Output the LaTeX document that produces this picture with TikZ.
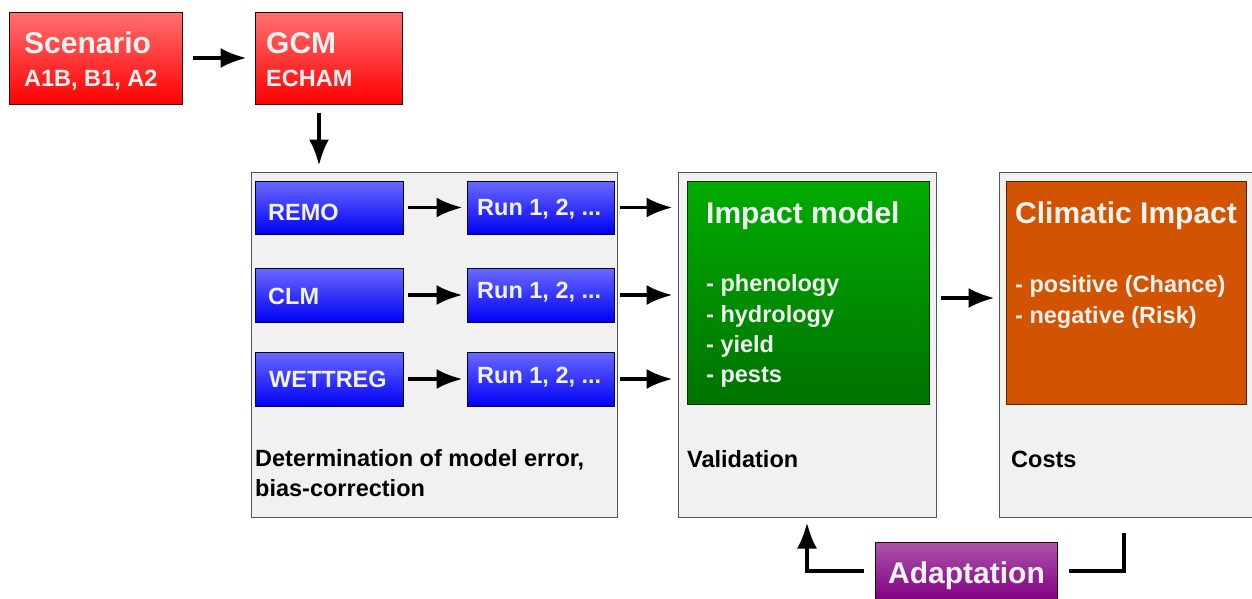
\documentclass[tikz,border=0pt]{standalone}
\usepackage{fontspec}
\setmainfont{Liberation Sans}
\usetikzlibrary{arrows.meta}
\definecolor{txtc}{HTML}{F2F2F2}
\definecolor{grayfill}{HTML}{F1F1F1}
\definecolor{grayline}{HTML}{555555}
\definecolor{redtop}{HTML}{FF7070}
\definecolor{redbot}{HTML}{FF0000}
\definecolor{bluetop}{HTML}{6A6AFF}
\definecolor{bluebot}{HTML}{0000F5}
\definecolor{greentop}{HTML}{00AC00}
\definecolor{greenbot}{HTML}{007200}
\definecolor{orangefill}{HTML}{D35400}
\definecolor{purptop}{HTML}{AA55AA}
\definecolor{purpbot}{HTML}{820082}
\begin{document}
\begin{tikzpicture}[x=1pt,y=-1pt,
  box/.style={inner sep=0pt, line width=1pt},
  redbox/.style={box, draw=black!80!red, top color=redtop, bottom color=redbot},
  bluebox/.style={box, draw=black!85!blue, top color=bluetop, bottom color=bluebot},
  graybox/.style={box, draw=grayline, fill=grayfill},
  greenbox/.style={box, draw=black!80!green, top color=greentop, bottom color=greenbot},
  orangebox/.style={box, draw=black!70!orange, fill=orangefill},
  purpbox/.style={box, draw=black!70!purple, top color=purptop, bottom color=purpbot},
  big/.style={anchor=base west, inner sep=0pt, text=txtc, font=\bfseries\fontsize{30}{32}\selectfont},
  small/.style={anchor=base west, inner sep=0pt, text=txtc, font=\bfseries\fontsize{23.5}{25}\selectfont},
  dark/.style={anchor=base west, inner sep=0pt, text=black, font=\bfseries\fontsize{23.5}{25}\selectfont},
  arr/.style={line width=3.6pt, -{Latex[length=26pt,width=20pt]}},
  plain/.style={line width=3.6pt, line cap=butt}
]
\clip (0,0) rectangle (1252,598);
\fill[white] (0,0) rectangle (1252,598);

% top boxes
\node[redbox, minimum width=173pt, minimum height=92pt] (scen) at (95.5,58) {};
\node[big] (scent) at (24,53) {Scenario};
\node[small] (scens) at (24,86) {A1B, B1, A2};
\node[redbox, minimum width=147pt, minimum height=92pt] (gcm) at (328.5,58) {};
\node[big] (gcmt) at (266,53) {GCM};
\node[small] (gcms) at (266,86) {ECHAM};

% gray containers
\node[graybox, minimum width=366pt, minimum height=345pt] (g1) at (434,344.5) {};
\node[graybox, minimum width=258pt, minimum height=345pt] (g2) at (807,344.5) {};
\node[graybox, minimum width=270pt, minimum height=345pt] (g3) at (1134,344.5) {};

% blue boxes
\node[bluebox, minimum width=148pt, minimum height=53pt] (remo) at (329,207.5) {};
\node[small] (remot) at (268,220) {REMO};
\node[bluebox, minimum width=147pt, minimum height=53pt] (run1) at (540.5,207.5) {};
\node[small] (run1t) at (477,215) {Run 1, 2, ...};
\node[bluebox, minimum width=148pt, minimum height=54pt] (clm) at (329,295) {};
\node[small] (clmt) at (268,304) {CLM};
\node[bluebox, minimum width=147pt, minimum height=54pt] (run2) at (540.5,295) {};
\node[small] (run2t) at (477,298) {Run 1, 2, ...};
\node[bluebox, minimum width=148pt, minimum height=54pt] (wett) at (329,379) {};
\node[small] (wettt) at (269,387) {WETTREG};
\node[bluebox, minimum width=147pt, minimum height=54pt] (run3) at (540.5,379) {};
\node[small] (run3t) at (477,383) {Run 1, 2, ...};

\node[dark] (det1) at (255,466) {Determination of model error,};
\node[dark] (det2) at (255,496) {bias-correction};

% impact model
\node[greenbox, minimum width=242pt, minimum height=223pt] (green) at (808,292.5) {};
\node[big] (greent) at (706,223) {Impact model};
\node[small] (g1t) at (706,291) {- phenology};
\node[small] (g2t) at (706,322) {- hydrology};
\node[small] (g3t) at (706,352) {- yield};
\node[small] (g4t) at (706,382) {- pests};
\node[dark] (valid) at (687,467) {Validation};

% climatic impact
\node[orangebox, minimum width=240pt, minimum height=223pt] (orange) at (1126,292.5) {};
\node[big] (oranget) at (1015,223) {Climatic Impact};
\node[small] (o1t) at (1015,292) {- positive (Chance)};
\node[small] (o2t) at (1015,323) {- negative (Risk)};
\node[dark] (costs) at (1011,467) {Costs};

% adaptation
\node[purpbox, minimum width=182pt, minimum height=58pt] (adapt) at (966,571) {};
\node[big] (adaptt) at (888,583) {Adaptation};

% connectors
\coordinate (dx) at (319,0);
\coordinate (c3) at (1124,533);
\draw[arr, shorten <=10pt, shorten >=8pt] (scen.east) -- (gcm.west);
\draw[arr, shorten <=8pt, shorten >=6pt] (gcm.south -| dx) -- (g1.north -| dx);
\draw[arr, shorten <=4pt, shorten >=4pt] (remo.east) -- (run1.west);
\draw[arr, shorten <=4pt, shorten >=4pt] (clm.east) -- (run2.west);
\draw[arr, shorten <=4pt, shorten >=4pt] (wett.east) -- (run3.west);
\draw[arr, shorten <=5pt, shorten >=5pt] (run1.east) -- (run1.east -| g2.west);
\draw[arr, shorten <=5pt, shorten >=5pt] (run2.east) -- (run2.east -| g2.west);
\draw[arr, shorten <=5pt, shorten >=5pt] (run3.east) -- (run3.east -| g2.west);
\draw[arr, shorten <=4pt, shorten >=4pt] ([yshift=-5.5pt]green.east -| g2.east) -- ([yshift=-5.5pt]green.east -| g3.west);
\draw[arr, shorten <=11pt, shorten >=5pt] (adapt.west) -| (g2.south);
\draw[plain, shorten <=11pt] (adapt.east) -| (c3);
\end{tikzpicture}
\end{document}
